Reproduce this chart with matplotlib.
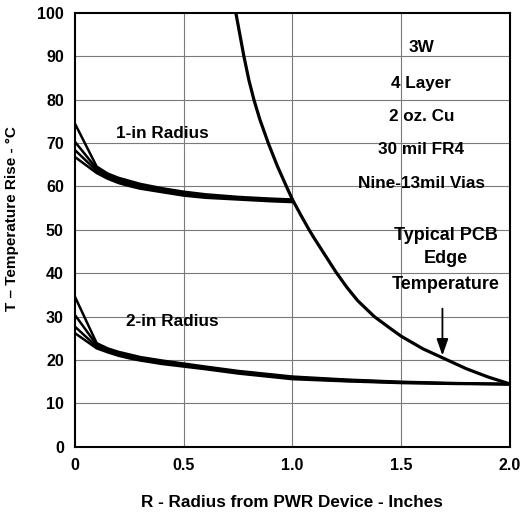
import numpy as np
import matplotlib
matplotlib.use('Agg')
import matplotlib.pyplot as plt

plt.rcParams['font.family'] = ['Liberation Sans', 'DejaVu Sans']
plt.rcParams['font.weight'] = 'bold'

# PCB edge temperature curve
edge_r = [0.74, 0.777, 0.80, 0.823, 0.85, 0.889, 0.93, 0.97, 1.0, 1.04, 1.077, 1.1,
          1.15, 1.2, 1.25, 1.3, 1.377, 1.45, 1.5, 1.6, 1.7, 1.8, 1.9, 2.0]
edge_t = [100, 90, 84.5, 80, 75.5, 70, 64.8, 60.3, 57, 53.3, 50, 48.1,
          44.2, 40.3, 36.8, 33.7, 30, 27.3, 25.5, 22.6, 20.3, 18.0, 16.1, 14.5]

# 1-in radius bundle
r1 = [0, 0.1, 0.15, 0.2, 0.25, 0.3, 0.4, 0.5, 0.6, 0.75, 0.9, 1.0]
one_in = [
    [74.5, 64.6, 63.0, 62.0, 61.3, 60.6, 59.6, 58.8, 58.2, 57.6, 57.2, 57.0],
    [70.3, 64.1, 62.6, 61.6, 60.9, 60.3, 59.3, 58.5, 58.0, 57.4, 57.0, 56.8],
    [68.4, 63.6, 62.2, 61.2, 60.5, 59.9, 59.0, 58.2, 57.7, 57.2, 56.8, 56.6],
    [66.8, 63.1, 61.8, 60.8, 60.1, 59.5, 58.7, 57.9, 57.4, 57.0, 56.6, 56.4],
]

# 2-in radius bundle
r2 = [0, 0.1, 0.15, 0.2, 0.25, 0.3, 0.4, 0.5, 0.6, 0.75, 1.0, 1.25, 1.5, 1.75, 2.0]
two_in = [
    [34.6, 23.9, 22.7, 21.9, 21.3, 20.7, 19.9, 19.2, 18.5, 17.5, 16.2, 15.5, 15.0, 14.7, 14.5],
    [30.4, 23.5, 22.4, 21.6, 21.0, 20.5, 19.7, 19.0, 18.3, 17.3, 16.0, 15.4, 14.9, 14.6, 14.5],
    [27.7, 23.1, 22.1, 21.3, 20.7, 20.2, 19.4, 18.8, 18.1, 17.1, 15.8, 15.2, 14.8, 14.6, 14.4],
    [26.2, 22.7, 21.8, 21.0, 20.4, 19.9, 19.1, 18.5, 17.9, 16.9, 15.6, 15.1, 14.7, 14.5, 14.4],
]

spec_lines = ['3W', '4 Layer', '2 oz. Cu', '30 mil FR4', 'Nine-13mil Vias']
spec_y = [92.0, 83.8, 76.2, 68.6, 60.8]
edge_lines = ['Typical PCB', 'Edge', 'Temperature']
edge_y = [48.8, 43.5, 37.3]

fig = plt.figure(figsize=(5.24, 5.16), dpi=100)
ax = fig.add_axes([0.143, 0.134, 0.830, 0.841])

for v in range(10, 100, 10):
    ax.axhline(v, color='#7a7a7a', lw=0.8, zorder=1)
for v in [0.5, 1.0, 1.5]:
    ax.axvline(v, color='#7a7a7a', lw=0.8, zorder=1)

for c in one_in:
    ax.plot(r1, c, color='black', lw=1.8, zorder=3)
for c in two_in:
    ax.plot(r2, c, color='black', lw=1.8, zorder=3)
ax.plot(edge_r, edge_t, color='black', lw=2.3, zorder=3, solid_joinstyle='round')

ax.set_xlim(0, 2.0)
ax.set_ylim(0, 100)
ax.set_xticks([0, 0.5, 1.0, 1.5, 2.0])
ax.set_xticklabels(['0', '0.5', '1.0', '1.5', '2.0'])
ax.set_yticks(range(0, 101, 10))
ax.tick_params(length=0, labelsize=11.5, pad=8)
for lab in ax.get_xticklabels() + ax.get_yticklabels():
    lab.set_fontweight('bold')
for s in ax.spines.values():
    s.set_linewidth(1.5)

ax.set_xlabel('R - Radius from PWR Device - Inches', fontsize=12.3, fontweight='bold', labelpad=16)
ax.set_ylabel('T \u2013 Temperature Rise - \u00b0C', fontsize=11, fontweight='bold')
ax.yaxis.set_label_coords(-0.129, 0.527)

ax.text(0.40, 72.3, '1-in Radius', fontsize=12.3, fontweight='bold', ha='center', va='center')
ax.text(0.45, 29, '2-in Radius', fontsize=12.3, fontweight='bold', ha='center', va='center')
for t, y in zip(spec_lines, spec_y):
    ax.text(1.593, y, t, fontsize=12.3, fontweight='bold', ha='center', va='center')
for t, y in zip(edge_lines, edge_y):
    ax.text(1.705, y, t, fontsize=13, fontweight='bold', ha='center', va='center')

ax.annotate('', xy=(1.69, 20.4), xytext=(1.69, 32.5),
            arrowprops=dict(arrowstyle='-|>,head_length=1.0,head_width=0.35', color='black', lw=1.3))

fig.savefig('out.png', dpi=100)
